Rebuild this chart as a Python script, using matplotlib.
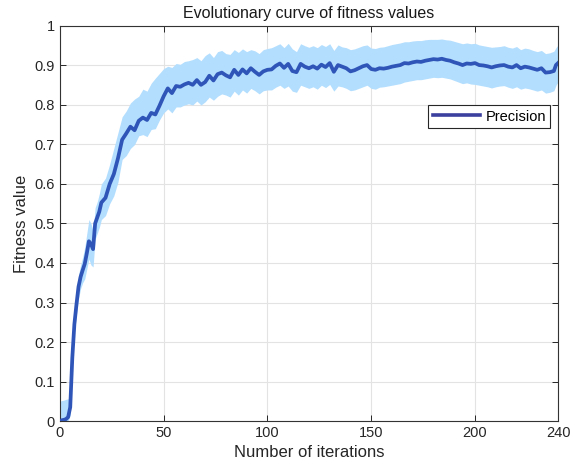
import matplotlib
matplotlib.use("Agg")
import matplotlib.pyplot as plt
from matplotlib.lines import Line2D

plt.rcParams["font.family"] = ["Liberation Sans", "DejaVu Sans"]

# iteration index of each sample
iterations = [0, 1, 2, 3, 4, 5, 6, 7, 8, 9, 10, 11, 12, 13, 14, 15, 16, 17, 18, 19, 20,
              22, 24, 26, 28, 30, 32, 34, 36, 38, 40,
              42, 44, 46, 48, 50, 52, 54, 56, 58, 60,
              62, 64, 66, 68, 70, 72, 74, 76, 78, 80,
              82, 84, 86, 88, 90, 92, 94, 96, 98, 100,
              102, 104, 106, 108, 110, 112, 114, 116, 118, 120,
              122, 124, 126, 128, 130, 132, 134, 136, 138, 140,
              142, 144, 146, 148, 150, 152, 154, 156, 158, 160,
              162, 164, 166, 168, 170, 172, 174, 176, 178, 180,
              182, 184, 186, 188, 190, 192, 194, 196, 198, 200,
              202, 204, 206, 208, 210, 212, 214, 216, 218, 220,
              222, 224, 226, 228, 230, 232, 234, 236, 238, 239, 240]

precision_mean = [0.000, 0.002, 0.003, 0.005, 0.010, 0.035, 0.160, 0.245, 0.295, 0.340, 0.365,
                  0.382, 0.398, 0.425, 0.455, 0.448, 0.435, 0.500, 0.515, 0.530, 0.553,
                  0.565, 0.600, 0.625, 0.665, 0.712, 0.728, 0.745, 0.736, 0.760, 0.768,
                  0.762, 0.780, 0.776, 0.798, 0.822, 0.842, 0.830, 0.848, 0.846, 0.852,
                  0.856, 0.851, 0.863, 0.851, 0.858, 0.874, 0.862, 0.878, 0.882, 0.875,
                  0.870, 0.889, 0.876, 0.890, 0.880, 0.893, 0.884, 0.876, 0.885, 0.889,
                  0.890, 0.899, 0.905, 0.894, 0.904, 0.886, 0.883, 0.904, 0.897, 0.893,
                  0.898, 0.892, 0.902, 0.896, 0.906, 0.884, 0.901, 0.897, 0.893, 0.885,
                  0.888, 0.893, 0.898, 0.901, 0.891, 0.889, 0.893, 0.892, 0.894, 0.897,
                  0.899, 0.901, 0.906, 0.905, 0.908, 0.910, 0.909, 0.912, 0.914, 0.916,
                  0.915, 0.917, 0.914, 0.912, 0.908, 0.905, 0.901, 0.905, 0.904, 0.906,
                  0.901, 0.900, 0.898, 0.895, 0.898, 0.900, 0.901, 0.897, 0.895, 0.901,
                  0.893, 0.897, 0.895, 0.892, 0.889, 0.893, 0.882, 0.883, 0.886, 0.901, 0.906]

precision_upper = [0.050, 0.052, 0.053, 0.055, 0.056, 0.060, 0.180, 0.265, 0.320, 0.370, 0.395,
                   0.415, 0.440, 0.475, 0.510, 0.500, 0.480, 0.540, 0.555, 0.575, 0.600,
                   0.615, 0.650, 0.690, 0.730, 0.770, 0.785, 0.805, 0.815, 0.822, 0.840,
                   0.835, 0.855, 0.868, 0.880, 0.892, 0.898, 0.895, 0.905, 0.903, 0.910,
                   0.912, 0.915, 0.920, 0.912, 0.925, 0.932, 0.920, 0.935, 0.938, 0.930,
                   0.928, 0.940, 0.933, 0.942, 0.935, 0.940, 0.937, 0.930, 0.940, 0.943,
                   0.945, 0.950, 0.955, 0.945, 0.956, 0.942, 0.935, 0.955, 0.950, 0.946,
                   0.950, 0.945, 0.953, 0.948, 0.955, 0.938, 0.952, 0.947, 0.945, 0.940,
                   0.942, 0.946, 0.950, 0.952, 0.944, 0.943, 0.946, 0.947, 0.950, 0.953,
                   0.955, 0.957, 0.960, 0.960, 0.962, 0.963, 0.963, 0.965, 0.966, 0.966,
                   0.966, 0.967, 0.965, 0.964, 0.961, 0.958, 0.955, 0.957, 0.955, 0.956,
                   0.952, 0.950, 0.948, 0.946, 0.947, 0.948, 0.950, 0.946, 0.944, 0.948,
                   0.940, 0.944, 0.942, 0.938, 0.935, 0.938, 0.930, 0.932, 0.936, 0.945, 0.952]

precision_lower = [0.000, 0.000, 0.000, 0.000, 0.000, 0.015, 0.140, 0.225, 0.270, 0.310, 0.335,
                   0.350, 0.360, 0.385, 0.410, 0.395, 0.390, 0.460, 0.475, 0.490, 0.510,
                   0.520, 0.550, 0.570, 0.605, 0.662, 0.672, 0.690, 0.700, 0.722, 0.725,
                   0.720, 0.738, 0.740, 0.762, 0.780, 0.790, 0.780, 0.795, 0.795, 0.800,
                   0.803, 0.800, 0.810, 0.800, 0.808, 0.820, 0.812, 0.822, 0.828, 0.825,
                   0.820, 0.835, 0.825, 0.838, 0.830, 0.842, 0.836, 0.828, 0.836, 0.838,
                   0.838, 0.845, 0.850, 0.842, 0.848, 0.835, 0.832, 0.850, 0.846, 0.842,
                   0.846, 0.840, 0.850, 0.844, 0.852, 0.835, 0.848, 0.846, 0.842, 0.836,
                   0.838, 0.842, 0.846, 0.850, 0.842, 0.840, 0.845, 0.846, 0.848, 0.850,
                   0.852, 0.854, 0.858, 0.860, 0.862, 0.864, 0.864, 0.866, 0.868, 0.870,
                   0.869, 0.870, 0.868, 0.866, 0.862, 0.858, 0.854, 0.856, 0.853, 0.852,
                   0.850, 0.848, 0.846, 0.843, 0.846, 0.848, 0.849, 0.845, 0.842, 0.846,
                   0.840, 0.843, 0.841, 0.838, 0.835, 0.838, 0.830, 0.832, 0.836, 0.850, 0.858]

x_ticks = [0, 50, 100, 150, 200, 240]
y_ticks = [0, 0.1, 0.2, 0.3, 0.4, 0.5, 0.6, 0.7, 0.8, 0.9, 1]
y_tick_labels = ["0", "0.1", "0.2", "0.3", "0.4", "0.5", "0.6", "0.7", "0.8", "0.9", "1"]

fig = plt.figure(figsize=(5.7, 4.72), dpi=100)
ax = fig.add_axes([0.105, 0.108, 0.874, 0.837])

ax.fill_between(iterations, precision_lower, precision_upper,
                color="#b3defe", linewidth=0, zorder=2)
ax.plot(iterations, precision_mean, color="#2f55b8", linewidth=2.7, zorder=3)

ax.set_xlim(0, 240)
ax.set_ylim(0, 1)
ax.set_xticks(x_ticks)
ax.set_yticks(y_ticks)
ax.set_yticklabels(y_tick_labels)
ax.grid(True, color="#e3e3e3", linewidth=0.8, zorder=0)
ax.set_axisbelow(True)

for side in ax.spines.values():
    side.set_color("#333333")
    side.set_linewidth(0.8)
ax.tick_params(direction="in", top=True, right=True, length=4, width=0.7,
               colors="#262626", labelsize=10.5)

ax.set_title("Evolutionary curve of fitness values", fontsize=11.5, color="#1a1a1a", pad=6)
ax.set_xlabel("Number of iterations", fontsize=12, color="#262626", labelpad=4)
ax.set_ylabel("Fitness value", fontsize=12, color="#262626", labelpad=4)

handle = Line2D([], [], color="#3b3f9e", linewidth=2.6)
leg = ax.legend([handle], ["Precision"], loc="upper right", bbox_to_anchor=(0.999, 0.818),
                fancybox=False, framealpha=1, edgecolor="#262626", fontsize=10.5,
                handlelength=3.2, borderpad=0.3, handletextpad=0.4)
leg.get_frame().set_linewidth(0.8)

fig.savefig("out.png", dpi=100)
